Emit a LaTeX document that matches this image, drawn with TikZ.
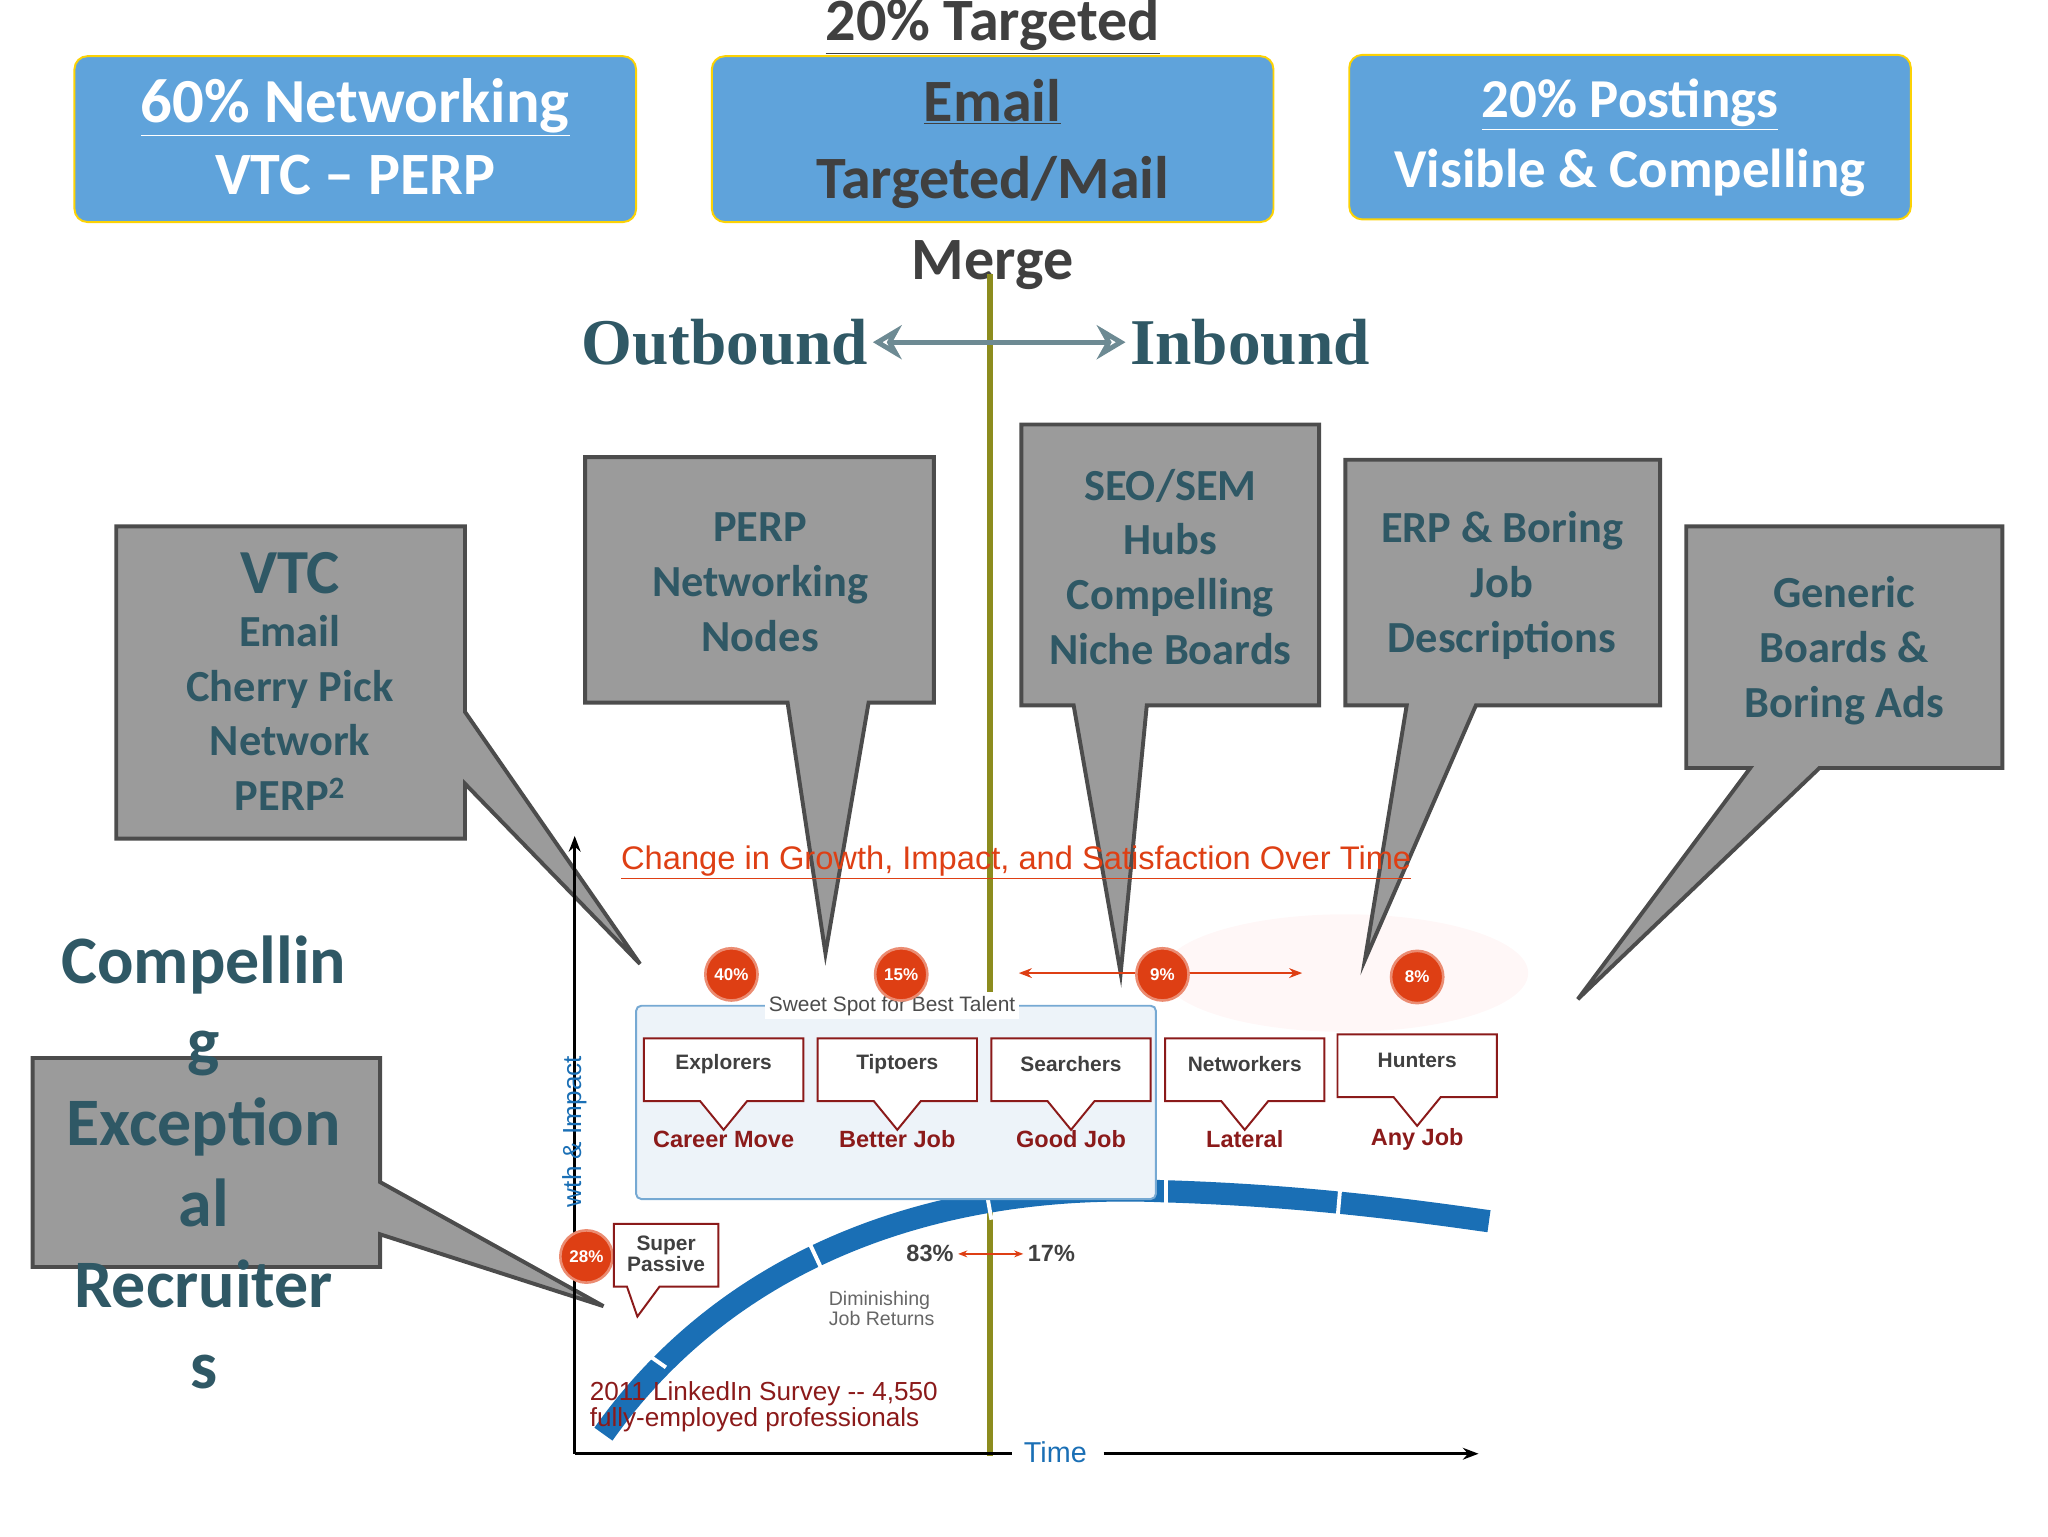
\documentclass[tikz,border=0pt]{standalone}
\usepackage{fontspec}
\setmainfont{Carlito}
\newfontfamily\ser{Liberation Serif}
\newfontfamily\sa{Liberation Sans}
\usetikzlibrary{arrows.meta}
\definecolor{topblue}{HTML}{5FA3DB}
\definecolor{teal}{HTML}{2F5865}
\definecolor{callg}{HTML}{9B9B9B}
\definecolor{olive}{HTML}{8C8C1E}
\definecolor{ored}{HTML}{DE3F14}
\definecolor{dred}{HTML}{8B1A1A}
\definecolor{cblue}{HTML}{1A6FB5}
\newcommand{\fs}[1]{\fontsize{#1}{#1}\selectfont}
\tikzset{
 topbox/.style={draw=yellow!70!orange,line width=1.5pt,fill=topblue,rounded corners=10pt},
 call/.style={draw=black!70,line width=3pt,fill=callg,line join=miter},
 ctext/.style={text=teal,font=\fs{34}\bfseries,align=center},
 pct/.style={circle,fill=ored,draw=ored!60,line width=2pt,minimum size=40pt,inner sep=0pt,text=white,font=\sa\fs{13}\bfseries},
 wbox/.style={draw=dred,line width=1.5pt,fill=white},
 wlab/.style={font=\sa\fs{16}\bfseries,text=black!75},
 rlab/.style={font=\sa\fs{18}\bfseries,text=dred}
}
\begin{document}
\begin{tikzpicture}[x=1pt,y=-1pt]
\useasboundingbox (0,0) rectangle (1568,1176);
% top boxes
\draw[topbox] (57,43) rectangle (487,170);
\draw[topbox] (545,43) rectangle (975,170);
\draw[topbox] (1033,42) rectangle (1463,168);
\node (t1) [text=white,font=\fs{48}\bfseries] at (272,82) {\underline{60\% Networking}};
\node (t2) [text=white,font=\fs{46}\bfseries] at (272,134) {VTC -- PERP};
\node (m0) [text=black!75,font=\fs{46}\bfseries] at (760,20) {\underline{20\% Targeted}};
\node (m1) [text=black!75,font=\fs{46}\bfseries] at (760,78) {\underline{Email}};
\node (m2) [text=black!75,font=\fs{46}\bfseries] at (760,140) {Targeted/Mail};
\node (m3) [text=black!75,font=\fs{46}\bfseries] at (760,203) {Merge};
\node (r1) [text=white,font=\fs{42}\bfseries] at (1248,80) {\underline{20\% Postings}};
\node (r2) [text=white,font=\fs{42}\bfseries] at (1248,132) {Visible \& Compelling};
% chart background blob
\fill[red!3] (1030,745) ellipse (140 and 45);
% vertical line
\draw[olive,line width=5pt] (758,210) -- (758,1115);
% outbound/inbound
\node (ob) [text=teal,font=\ser\fs{50}\bfseries] at (555,262) {Outbound};
\node (ib) [text=teal,font=\ser\fs{50}\bfseries] at (957,262) {Inbound};
\draw[{Stealth[length=22pt,width=26pt,open]}-{Stealth[length=22pt,width=26pt,open]},draw=teal!70,line width=4pt] (ob.east) -- (ib.west);
% callouts
\draw[call] (89,403) -- (356,403) -- (356,545) -- (490,738) -- (356,600) -- (356,642) -- (89,642) -- cycle;
\node (c1) [ctext] at (222,522) {{\fs{48}VTC}\\[6pt]Email\\[8pt]Cherry Pick\\[8pt]Network\\[8pt]PERP\textsuperscript{2}};
\draw[call] (448,350) -- (715,350) -- (715,538) -- (665,538) -- (632,730) -- (603,538) -- (448,538) -- cycle;
\node (c2) [ctext] at (582,446) {PERP\\[8pt]Networking\\[8pt]Nodes};
\draw[call] (782,325) -- (1010,325) -- (1010,540) -- (878,540) -- (858,745) -- (822,540) -- (782,540) -- cycle;
\node (c3) [ctext] at (896,434) {SEO/SEM\\[8pt]Hubs\\[8pt]Compelling\\[8pt]Niche Boards};
\draw[call] (1030,352) -- (1271,352) -- (1271,540) -- (1130,540) -- (1045,735) -- (1077,540) -- (1030,540) -- cycle;
\node (c4) [ctext] at (1150,448) {ERP \& Boring\\[8pt]Job\\[8pt]Descriptions};
\draw[call] (1291,403) -- (1533,403) -- (1533,588) -- (1393,588) -- (1208,765) -- (1340,588) -- (1291,588) -- cycle;
\node (c5) [ctext] at (1412,498) {Generic\\[8pt]Boards \&\\[8pt]Boring Ads};
\draw[call] (25,810) -- (291,810) -- (291,905) -- (462,1000) -- (291,945) -- (291,970) -- (25,970) -- cycle;
\node (c6) [text=teal,font=\fs{52}\bfseries,align=center] at (156,890) {Compellin\\[10pt]g\\[10pt]Exception\\[10pt]al\\[10pt]Recruiter\\[10pt]s};
% axes
\coordinate (o) at (440,1113);
\coordinate (ytop) at (440,640);
\coordinate (xend) at (1132,1113);
\draw[line width=2pt,-{Stealth[length=12pt]}] (o) -- (ytop);
\draw[line width=2pt] (o) -- (775,1113);
\draw[line width=2pt,-{Stealth[length=12pt]}] (845,1113) -- (xend);
\node (time) [font=\sa\fs{22},text=cblue] at (808,1112) {Time};
\node (yl) [font=\sa\fs{20},text=cblue,rotate=90,anchor=east] at (440,805) {wth \& Impact};
\node (ttl) [font=\sa\fs{25},text=ored] at (778,660) {\underline{Change in Growth, Impact, and Satisfaction Over Time}};
% curve
\draw[cblue,line width=17pt] (462,1098) .. controls (560,960) and (720,905) .. (890,912) .. controls (990,915) and (1070,925) .. (1140,935);
\foreach \x/\y/\a in {500/1040/-55,625/963/-25,757/922/-10,893/913/0,1025/922/5}
  \draw[white,line width=3pt] (\x,\y) ++(\a+90:-12) -- ++(\a+90:24);
% sweet spot
\draw[cblue!60,line width=1.5pt,fill=cblue!8,rounded corners=4pt] (487,770) rectangle (885,918);
\node (ss) [fill=white,font=\sa\fs{16},text=black!70,inner sep=3pt] at (683,770) {Sweet Spot for Best Talent};
% red arrow
\draw[ored,line width=2pt,{Stealth[length=10pt]}-{Stealth[length=10pt]}] (780,745) -- (997,745);
% circles
\node (p1) [pct] at (560,746) {40\%};
\node (p2) [pct] at (690,746) {15\%};
\node (p3) [pct] at (890,746) {9\%};
\node (p4) [pct] at (1085,748) {8\%};
\node (p5) [pct] at (449,962) {28\%};
% boxes
\foreach \xa/\ya/\t/\l [count=\i] in {493/795/Explorers/Career Move,626/795/Tiptoers/Better Job,759/795/Searchers/Good Job,892/795/Networkers/Lateral,1024/792/Hunters/Any Job}{
  \pgfmathsetmacro{\xc}{\xa+61}
  \draw[wbox] (\xa,\ya) -- (\xa+122,\ya) -- (\xa+122,\ya+48) -- (\xc+18,\ya+48) -- (\xc,\ya+70) -- (\xc-18,\ya+48) -- (\xa,\ya+48) -- cycle;
  \node (b\i) [wlab] at (\xc,\ya+20) {\t};
  \node (l\i) [rlab] at (\xc,872) {\l};
}
% super passive
\draw[wbox] (470,937) -- (550,937) -- (550,985) -- (505,985) -- (488,1008) -- (480,985) -- (470,985) -- cycle;
\node (sp) [wlab,align=center,font=\sa\fs{16}\bfseries] at (510,960) {Super\\Passive};
\node (n83) [font=\sa\fs{18}\bfseries,text=black!75] at (712,960) {83\%};
\node (n17) [font=\sa\fs{18}\bfseries,text=black!75] at (805,960) {17\%};
\draw[ored,line width=1.5pt,{Stealth[length=7pt]}-{Stealth[length=7pt]}] (n83) -- (n17);
\node (dim) [font=\sa\fs{15},text=black!60,align=left] at (675,1002) {Diminishing\\Job Returns};
\node (sv) [font=\sa\fs{20},text=dred,align=left,anchor=west] at (448,1077) {2011 LinkedIn Survey -- 4,550\\fully-employed professionals};
\end{tikzpicture}
\end{document}
